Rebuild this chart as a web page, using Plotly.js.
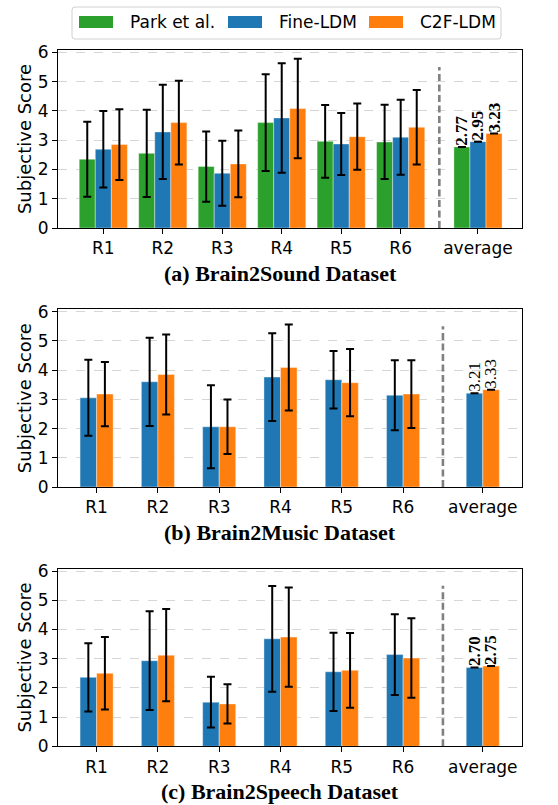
<!DOCTYPE html>
<html>
<head>
<meta charset="utf-8">
<script src="https://cdn.plot.ly/plotly-3.0.1.min.js"></script>
<style>html,body{margin:0;padding:0;background:#fff;}#chart{width:558px;height:805px;}</style>
</head>
<body>
<div id="chart"></div>
<script>
// ---------------- data ----------------
const categories = ['R1', 'R2', 'R3', 'R4', 'R5', 'R6', 'average'];
const xPositions = [0, 1, 2, 3, 4, 5, 6.3];
const seriesNames = ['Park et al.', 'Fine-LDM', 'C2F-LDM'];
const yTicks = [0, 1, 2, 3, 4, 5, 6];

// (a) Brain2Sound
const soundPark     = [2.35, 2.55, 2.10, 3.60, 2.96, 2.94, 2.77];
const soundParkErr  = [1.28, 1.49, 1.20, 1.65, 1.24, 1.27, null];
const soundFine     = [2.69, 3.28, 1.87, 3.76, 2.87, 3.10, 2.95];
const soundFineErr  = [1.31, 1.61, 1.11, 1.87, 1.06, 1.28, null];
const soundC2F      = [2.85, 3.60, 2.19, 4.08, 3.12, 3.44, 3.23];
const soundC2FErr   = [1.21, 1.43, 1.14, 1.70, 1.13, 1.27, null];

// (b) Brain2Music
const musicFine     = [3.05, 3.60, 2.06, 3.76, 3.67, 3.14, 3.21];
const musicFineErr  = [1.30, 1.51, 1.42, 1.50, 0.98, 1.20, null];
const musicC2F      = [3.18, 3.85, 2.06, 4.09, 3.57, 3.18, 3.33];
const musicC2FErr   = [1.10, 1.37, 0.93, 1.47, 1.15, 1.16, null];

// (c) Brain2Speech
const speechFine    = [2.36, 2.93, 1.51, 3.68, 2.55, 3.14, 2.70];
const speechFineErr = [1.17, 1.69, 0.87, 1.81, 1.34, 1.38, null];
const speechC2F     = [2.50, 3.12, 1.45, 3.74, 2.60, 3.02, 2.75];
const speechC2FErr  = [1.24, 1.58, 0.67, 1.70, 1.28, 1.36, null];

const captions = ['(a) Brain2Sound Dataset', '(b) Brain2Music Dataset', '(c) Brain2Speech Dataset'];

// ---------------- styling ----------------
const colors = {'Park et al.': '#2ca02c', 'Fine-LDM': '#1f77b4', 'C2F-LDM': '#ff7f0e'};
const BAR_W = 0.27;
const W = 558, H = 805;
const px = v => v / W;
const py = v => 1 - v / H;
const sansFont = 'DejaVu Sans, sans-serif';
const serifFont = 'Liberation Serif, Times New Roman, serif';

const panels = [
  {series: [['Park et al.', soundPark, soundParkErr], ['Fine-LDM', soundFine, soundFineErr], ['C2F-LDM', soundC2F, soundC2FErr]],
   top: 50, bottom: 228, xrange: [-0.762, 7.04], labelBold: true},
  {series: [['Fine-LDM', musicFine, musicFineErr], ['C2F-LDM', musicC2F, musicC2FErr]],
   top: 309.3, bottom: 487, xrange: [-0.63, 6.94], labelBold: false},
  {series: [['Fine-LDM', speechFine, speechFineErr], ['C2F-LDM', speechC2F, speechC2FErr]],
   top: 568.7, bottom: 746.3, xrange: [-0.63, 6.94], labelBold: true}
];

const traces = [];
const annotations = [];
const shapes = [];
const layout = {
  width: W, height: H,
  margin: {l: 0, r: 0, t: 0, b: 0},
  paper_bgcolor: '#fff', plot_bgcolor: '#fff',
  barmode: 'overlay',
  showlegend: false,
  font: {family: sansFont, size: 17, color: '#000'}
};

panels.forEach((p, pi) => {
  const sfx = pi === 0 ? '' : String(pi + 1);
  const xa = 'x' + sfx, ya = 'y' + sfx;
  const n = p.series.length;
  p.series.forEach(([name, vals, errs], si) => {
    const offset = (si - n / 2) * BAR_W;
    traces.push({
      type: 'bar', name: name, x: xPositions, y: vals,
      xaxis: xa, yaxis: ya,
      width: BAR_W, offset: offset,
      marker: {color: colors[name], line: {color: 'rgba(255,255,255,0.55)', width: 0.7}},
      error_y: {type: 'data', array: errs, visible: true, color: '#000', thickness: 2, width: 4},
      hoverinfo: 'skip'
    });
    // value label for the average group
    const last = vals.length - 1;
    annotations.push({
      xref: xa, yref: ya, x: xPositions[last] + offset + BAR_W / 2, y: vals[last],
      text: p.labelBold ? '<b>' + vals[last].toFixed(2) + '</b>' : vals[last].toFixed(2),
      textangle: -90, showarrow: false, xanchor: 'center', yanchor: 'bottom',
      font: {family: serifFont, size: 17, color: '#000'}, borderpad: 0
    });
  });
  const sepX = (xPositions[5] + xPositions[6]) / 2;
  shapes.push({type: 'line', xref: xa, yref: ya, x0: sepX, x1: sepX, y0: 0, y1: 5.5,
    line: {color: '#808080', width: 2.6, dash: '7px,3.5px'}});

  layout['xaxis' + sfx] = {
    domain: [px(58), px(522)], anchor: ya, range: p.xrange,
    tickmode: 'array', tickvals: xPositions, ticktext: categories,
    ticks: 'outside', ticklen: 5, tickwidth: 1, tickcolor: '#000',
    showline: true, linecolor: '#000', linewidth: 1, mirror: true,
    showgrid: false, zeroline: false, fixedrange: true,
    tickfont: {family: sansFont, size: 17, color: '#000'}
  };
  layout['yaxis' + sfx] = {
    domain: [py(p.bottom), py(p.top)], anchor: xa, range: [0, 6.08],
    tickmode: 'array', tickvals: yTicks,
    ticks: 'outside', ticklen: 5, tickwidth: 1, tickcolor: '#000',
    showline: true, linecolor: '#000', linewidth: 1, mirror: true,
    showgrid: true, gridcolor: '#d6d6d6', gridwidth: 1, griddash: 'dash',
    zeroline: false, fixedrange: true,
    tickfont: {family: sansFont, size: 17, color: '#000'},
    title: {text: 'Subjective Score', font: {family: sansFont, size: 18, color: '#000'}, standoff: 1}
  };
  annotations.push({
    xref: 'paper', yref: 'paper', x: 0.502, y: py(p.bottom + 45),
    text: '<b>' + captions[pi] + '</b>', showarrow: false,
    xanchor: 'center', yanchor: 'middle',
    font: {family: serifFont, size: 22, color: '#000'}
  });
});

// ---------------- custom legend (matplotlib-style wide patches) ----------------
shapes.push({type: 'path', xref: 'paper', yref: 'paper',
  path: (() => {
    const x0 = 72, x1 = 501, y0 = 7, y1 = 39, r = 3;
    const X = v => px(v), Y = v => py(v);
    return `M${X(x0 + r)},${Y(y0)} L${X(x1 - r)},${Y(y0)} Q${X(x1)},${Y(y0)} ${X(x1)},${Y(y0 + r)} ` +
      `L${X(x1)},${Y(y1 - r)} Q${X(x1)},${Y(y1)} ${X(x1 - r)},${Y(y1)} L${X(x0 + r)},${Y(y1)} ` +
      `Q${X(x0)},${Y(y1)} ${X(x0)},${Y(y1 - r)} L${X(x0)},${Y(y0 + r)} Q${X(x0)},${Y(y0)} ${X(x0 + r)},${Y(y0)} Z`;
  })(),
  line: {color: '#d0d0d0', width: 1}, fillcolor: 'rgba(255,255,255,0.85)', layer: 'above'});
const legendItems = [
  {name: seriesNames[0], patchX: 79, textX: 128},
  {name: seriesNames[1], patchX: 228, textX: 277},
  {name: seriesNames[2], patchX: 369, textX: 418}
];
legendItems.forEach(it => {
  shapes.push({type: 'rect', xref: 'paper', yref: 'paper',
    x0: px(it.patchX), x1: px(it.patchX + 34), y0: py(28), y1: py(16),
    line: {width: 0}, fillcolor: colors[it.name], layer: 'above'});
  annotations.push({xref: 'paper', yref: 'paper', x: px(it.textX), y: py(22),
    text: it.name, showarrow: false, xanchor: 'left', yanchor: 'middle',
    font: {family: sansFont, size: 17, color: '#000'}});
});

layout.shapes = shapes;
layout.annotations = annotations;

Plotly.newPlot('chart', traces, layout, {displayModeBar: false, staticPlot: true});
</script>
</body>
</html>
